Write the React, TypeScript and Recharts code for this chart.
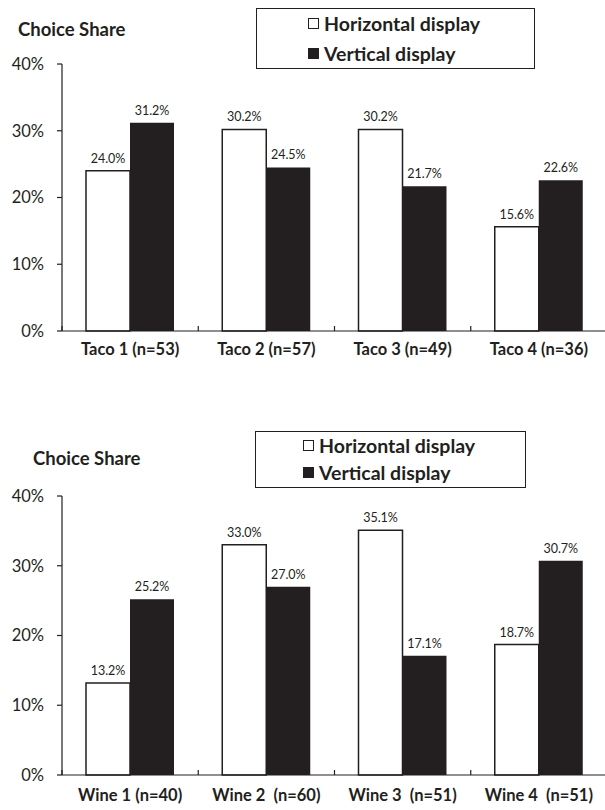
import { BarChart, Bar, XAxis, YAxis, LabelList } from 'recharts';

const tacoCategories = ['Taco 1 (n=53)', 'Taco 2 (n=57)', 'Taco 3 (n=49)', 'Taco 4 (n=36)'];
const tacoHorizontal = [24.0, 30.2, 30.2, 15.6];
const tacoVertical = [31.2, 24.5, 21.7, 22.6];

const wineCategories = ['Wine 1 (n=40)', 'Wine 2  (n=60)', 'Wine 3  (n=51)', 'Wine 4  (n=51)'];
const wineHorizontal = [13.2, 33.0, 35.1, 18.7];
const wineVertical = [25.2, 27.0, 17.1, 30.7];

const yTicks = [0, 10, 20, 30, 40];
const seriesNames = ['Horizontal display', 'Vertical display'];

const INK = '#231f20';
const FONT = 'Lato, "Open Sans", sans-serif';

const CHART_W = 610;
const Y_AXIS_W = 62;
const RIGHT = 3;
const PLOT_W = CHART_W - Y_AXIS_W - RIGHT;

function buildRows(cats: string[], h: number[], v: number[]) {
  return cats.map((name, i) => ({ name, horizontal: h[i], vertical: v[i] }));
}

function makeTick(count: number, dy: number) {
  const band = PLOT_W / count;
  return (props: any) => {
    const { x, y, payload } = props;
    // keep the double spaces of the source labels
    const label = String(payload.value).replace(/  /g, ' \u00a0');
    return (
      <g>
        <line x1={x - band / 2} x2={x - band / 2} y1={y} y2={y - 5} stroke={INK} strokeWidth={1.2} />
        <text x={x} y={y + dy} textAnchor="middle" fontFamily={FONT} fontWeight={700} fontSize={16.5} fill={INK}>
          {label}
        </text>
      </g>
    );
  };
}

function fmt(v: any) {
  return Number(v).toFixed(1) + '%';
}

function ShareChart({ rows, top, height, marginTop, axisH, labelDy }: any) {
  return (
    <div style={{ position: 'absolute', left: 0, top }}>
      <BarChart
        width={CHART_W}
        height={height}
        data={rows}
        margin={{ top: marginTop, right: RIGHT, bottom: 0, left: 0 }}
        barCategoryGap={24}
        barGap={0}
      >
        <XAxis
          dataKey="name"
          height={axisH}
          axisLine={{ stroke: INK, strokeWidth: 1.2 }}
          tickLine={false}
          tickSize={0}
          tickMargin={0}
          interval={0}
          tick={makeTick(rows.length, labelDy)}
        />
        <YAxis
          width={Y_AXIS_W}
          domain={[0, 40]}
          ticks={yTicks}
          tickFormatter={(v) => v + '%'}
          axisLine={{ stroke: INK, strokeWidth: 1.2 }}
          tickLine={{ stroke: INK, strokeWidth: 1.2 }}
          tickSize={5}
          tickMargin={13}
          tick={{ fontFamily: FONT, fontSize: 16.5, fill: INK }}
        />
        <Bar dataKey="horizontal" fill="#ffffff" stroke={INK} strokeWidth={1.5} isAnimationActive={false}>
          <LabelList dataKey="horizontal" position="top" offset={8} formatter={fmt} fontFamily={FONT} fontSize={12.5} fill={INK} />
        </Bar>
        <Bar dataKey="vertical" fill={INK} isAnimationActive={false}>
          <LabelList dataKey="vertical" position="top" offset={8} formatter={fmt} fontFamily={FONT} fontSize={12.5} fill={INK} />
        </Bar>
      </BarChart>
    </div>
  );
}

function LegendBox({ left, top, width, height, markerX, rowCenters }: any) {
  const row = (label: string, filled: boolean, cy: number) => (
    <div
      style={{
        position: 'absolute',
        left: markerX,
        top: cy - 12,
        height: 24,
        display: 'flex',
        alignItems: 'center',
        whiteSpace: 'nowrap',
      }}
    >
      <div
        style={{
          width: 11,
          height: 11,
          marginRight: 5,
          border: `1px solid ${INK}`,
          background: filled ? INK : '#fff',
          boxSizing: 'border-box',
        }}
      />
      <span style={{ fontFamily: FONT, fontWeight: 700, fontSize: 19.5, color: INK }}>{label}</span>
    </div>
  );
  return (
    <div
      style={{
        position: 'absolute',
        left,
        top,
        width,
        height,
        border: `1.2px solid ${INK}`,
        boxSizing: 'border-box',
      }}
    >
      {row(seriesNames[0], false, rowCenters[0])}
      {row(seriesNames[1], true, rowCenters[1])}
    </div>
  );
}

function Title({ left, top }: any) {
  return (
    <div
      style={{
        position: 'absolute',
        left,
        top,
        fontFamily: FONT,
        fontWeight: 700,
        fontSize: 18.5,
        color: INK,
        lineHeight: '22px',
        whiteSpace: 'nowrap',
      }}
    >
      Choice Share
    </div>
  );
}

export default function App() {
  return (
    <div style={{ position: 'absolute', left: 0, top: 0, width: 605, height: 810, overflow: 'hidden', background: '#fff' }}>
      <ShareChart rows={buildRows(tacoCategories, tacoHorizontal, tacoVertical)} top={0} height={380} marginTop={64} axisH={49} labelDy={24} />
      <ShareChart rows={buildRows(wineCategories, wineHorizontal, wineVertical)} top={400} height={410} marginTop={96} axisH={35} labelDy={26} />
      <Title left={18} top={18} />
      <Title left={33} top={447} />
      <LegendBox left={256} top={8} width={279} height={61} markerX={51} rowCenters={[14, 44]} />
      <LegendBox left={255} top={431} width={271} height={57} markerX={47} rowCenters={[13, 40]} />
    </div>
  );
}
